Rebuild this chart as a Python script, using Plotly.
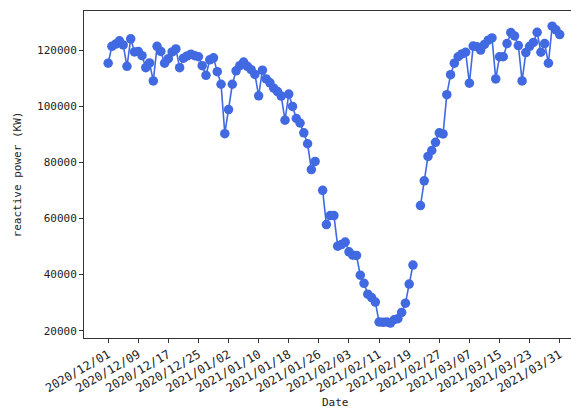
import pandas as pd
import plotly.graph_objects as go

start_date = "2020-12-01"
# daily reactive power (KW); None = missing day (line break)
power_kw = [
    115300, 121300, 122100, 123300, 121800, 114200, 124000, 119300, 119500, 118000,
    113700, 115400, 109000, 121300, 119500, 115300, 116900, 119300, 120400, 113700,
    117100, 117900, 118500, 118000, 117600, 114400, 111000, 116500, 117200, 112300,
    107800, 90200, 98800, 107800, 112600, 114400, 115700, 114200, 113000, 111300,
    103700, 112800, 109700, 108300, 106400, 105200, 103600, 95000, 104300, 99900,
    95600, 94000, 90500, 86600, 77400, 80300, None, 70000, 57800, 61000,
    61000, 50100, 50700, 51600, 48100, 46900, 46800, 39800, 36900, 33000,
    31800, 30200, 23100, 23000, 23100, 22700, 23900, 24300, 26500, 29800,
    36600, 43400, None, 64600, 73400, 82100, 84200, 87100, 90500, 90100,
    104100, 111200, 115300, 117600, 118600, 119200, 108200, 121400, 121200, 120000,
    122000, 123500, 124300, 109700, 117600, 117600, 122300, 126200, 125000, 121600,
    109000, 119100, 121300, 122700, 126300, 119200, 122300, 115300, 128500, 127200,
    125500,
]
tick_labels = [
    "2020/12/01", "2020/12/09", "2020/12/17", "2020/12/25", "2021/01/02",
    "2021/01/10", "2021/01/18", "2021/01/26", "2021/02/03", "2021/02/11",
    "2021/02/19", "2021/02/27", "2021/03/07", "2021/03/15", "2021/03/23",
    "2021/03/31",
]
y_ticks = [20000, 40000, 60000, 80000, 100000, 120000]

dates = pd.date_range(start_date, periods=len(power_kw), freq="D")
tick_vals = [pd.Timestamp(t.replace("/", "-")) for t in tick_labels]

FONT = "DejaVu Sans Mono"
COLOR = "#4169E1"

fig = go.Figure()
fig.add_trace(go.Scatter(
    x=dates, y=power_kw, mode="lines+markers",
    line=dict(color=COLOR, width=1.6),
    marker=dict(color=COLOR, size=9.5),
    connectgaps=False, showlegend=False,
))

fig.update_layout(
    width=571, height=410,
    margin=dict(l=84, r=0, t=11, b=72),
    paper_bgcolor="white", plot_bgcolor="white",
    font=dict(family=FONT, size=11, color="#222"),
    xaxis=dict(
        range=["2020-11-24 14:00", "2021-04-03 00:00"],
        tickvals=tick_vals, ticktext=tick_labels, tickangle=-30,
        tickfont=dict(family=FONT, size=12, color="#222"),
        ticks="outside", ticklen=4, tickcolor="#333",
        showline=True, linecolor="#333", linewidth=1, mirror=True,
        showgrid=False, zeroline=False,
    ),
    yaxis=dict(
        range=[17400, 133900],
        tickvals=y_ticks, ticktext=[str(v) for v in y_ticks],
        ticks="outside", ticklen=4, tickcolor="#333",
        showline=True, linecolor="#333", linewidth=1, mirror=False,
        showgrid=False, zeroline=False,
        title=dict(text="reactive power (KW)", font=dict(family=FONT, size=11), standoff=13),
    ),
    annotations=[dict(
        text="Date", xref="paper", yref="paper",
        x=(335 - 84) / (571 - 84), y=-(402 - 338) / (338 - 11),
        xanchor="center", yanchor="middle", showarrow=False,
        font=dict(family=FONT, size=11, color="#222"),
    )],
)

fig.write_html("out.html")
